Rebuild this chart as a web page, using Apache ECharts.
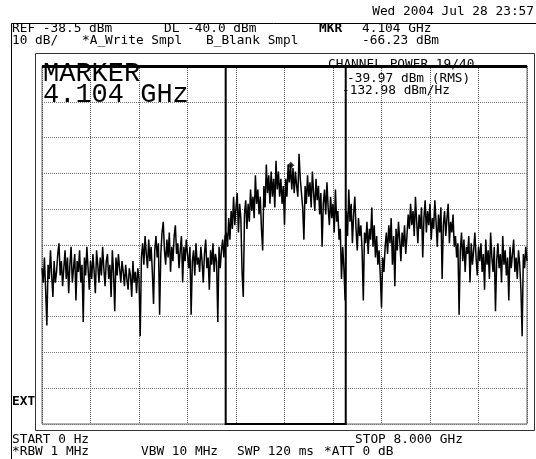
<!DOCTYPE html>
<html>
<head>
<meta charset="utf-8">
<script src="https://cdn.jsdelivr.net/npm/echarts@6/dist/echarts.min.js"></script>
<style>html,body{margin:0;padding:0;background:#fff;}#c{width:536px;height:459px;}</style>
</head>
<body>
<div id="c"></div>
<script>
// ---- data ----
const startGHz = 0;
const stopGHz = 8;
const refLevelDbm = -38.5;
const dbPerDiv = 10;
const xDivisions = 10;
const yDivisions = 10;
const channelStartGHz = 3.03;
const channelStopGHz = 5.01;
const markerGHz = 4.104;
const markerDbm = -66.23;

// trace A (dBm), 401 sweep points evenly spaced from start to stop
const traceDbm = [
  -95,-99,-92,-101,-111,-94,-98,-90,-97,-103,
  -93,-99,-96,-91,-88,-97,-93,-100,-95,-90,
  -98,-92,-102,-94,-89,-99,-95,-91,-104,-93,
  -96,-90,-99,-94,-110,-92,-97,-89,-95,-101,
  -93,-98,-91,-96,-102,-90,-94,-99,-92,-97,
  -89,-95,-100,-93,-91,-98,-94,-103,-90,-96,
  -107,-92,-97,-91,-95,-99,-93,-96,-100,-94,
  -98,-101,-95,-97,-103,-93,-99,-96,-102,-95,
  -98,-114,-92,-88,-94,-86,-91,-95,-87,-93,
  -89,-96,-105,-90,-86,-92,-88,-108,-91,-85,
  -82,-90,-94,-87,-92,-85,-96,-89,-93,-86,
  -83,-91,-88,-95,-90,-86,-99,-89,-93,-87,
  -91,-95,-89,-108,-93,-90,-97,-88,-94,-92,
  -96,-89,-93,-99,-91,-87,-95,-92,-101,-90,
  -94,-88,-96,-91,-93,-110,-89,-95,-90,-87,
  -92,-86,
  -85,-89,-81,-87,-79,-84,-75,-83,-78,-74,
  -85,-77,-81,-96,-103,-80,-76,-84,-77,-82,
  -73,-79,-75,-81,-69,-77,-73,-80,-75,-84,
  -90,-72,-78,-66,-74,-69,-77,-68,-75,-70,
  -78,-65,-73,-68,-75,-70,-77,-72,-83,-70,
  -75,-66,-71,-66,-73,-67,-74,-68,-72,-75,
  -63,-70,-74,-78,-87,-72,-77,-69,-75,-71,
  -78,-68,-74,-79,-70,-76,-72,-80,-74,-89,
  -77,-73,-80,-71,-78,-83,-75,-81,-77,-85,
  -73,-82,-79,-87,-84,-98,-89,-95,-104,
  -79,-86,-73,-82,-77,-88,-80,-75,-84,-90,
  -81,-86,-83,-90,-104,-85,-88,-82,-91,-84,
  -87,-78,-89,-83,-92,-86,-94,-90,-97,-106,
  -92,-96,-89,-85,-91,-83,-88,-81,-94,-86,
  -100,-84,-90,-82,-87,-93,-85,-89,-83,-91,
  -86,-80,-84,-77,-83,-79,-86,-75,-82,-88,
  -80,-84,-78,-92,-81,-76,-85,-79,-83,-77,
  -87,-81,-84,-76,-82,-89,-80,-85,-78,-98,
  -83,-79,-86,-81,-77,-88,-82,-85,-80,-89,
  -86,-92,-88,-108,-90,-85,-93,-87,-96,-89,
  -91,-86,-99,-88,-94,-90,-85,-92,-97,-89,
  -93,-88,-96,-91,-101,-87,-94,-90,-98,-85,
  -92,-96,-89,-107,-93,-88,-95,-91,-99,-86,
  -94,-90,-97,-92,-104,-89,-95,-91,-87,-96,
  -92,-98,-90,-94,-101,-114,-91,-95,-89,-93
];

// header / footer annotations
const headerRow0 = [{ text: 'Wed 2004 Jul 28 23:57', x: 534, align: 'right' }];
const headerRow1 = [
  { text: 'REF -38.5 dBm', x: 12 },
  { text: 'DL -40.0 dBm', x: 164 },
  { text: 'MKR', x: 319, bold: true },
  { text: '4.104 GHz', x: 362 }
];
const headerRow2 = [
  { text: '10 dB/', x: 12 },
  { text: '*A_Write Smpl', x: 82 },
  { text: 'B_Blank Smpl', x: 206 },
  { text: '-66.23 dBm', x: 362 }
];
const channelLines = ['CHANNEL POWER 19/40', '-39.97 dBm (RMS)', '-132.98 dBm/Hz'];
const markerLines = ['MARKER', '4.104 GHz'];
const footerRow1 = [
  { text: 'START 0 Hz', x: 12 },
  { text: 'STOP 8.000 GHz', x: 355 }
];
const footerRow2 = [
  { text: '*RBW 1 MHz', x: 12 },
  { text: 'VBW 10 MHz', x: 141 },
  { text: 'SWP 120 ms', x: 237 },
  { text: '*ATT 0 dB', x: 324 }
];

// ---- chart ----
const N = traceDbm.length;
const traceData = traceDbm.map((v, i) => [startGHz + i * (stopGHz - startGHz) / (N - 1), v]);
const bottomDbm = refLevelDbm - dbPerDiv * yDivisions;

const mono = '"DejaVu Sans Mono", monospace';
function txt(t, x, y, opts) {
  opts = opts || {};
  return {
    type: 'text', x: x, y: y, z: 100,
    style: {
      text: t, fill: '#000',
      font: (opts.bold ? 'bold ' : '') + (opts.size || 12.8) + 'px ' + (opts.family || mono),
      textAlign: opts.align || 'left', textVerticalAlign: 'middle'
    }
  };
}
const graphics = [];
graphics.push({ type: 'polyline', z: 90, shape: { points: [[536, 23.5], [11.5, 23.5], [11.5, 459]] }, style: { stroke: '#000', lineWidth: 1, fill: null } });
graphics.push({ type: 'rect', z: 90, shape: { x: 35.5, y: 53.5, width: 499, height: 377 }, style: { stroke: '#333', lineWidth: 1, fill: null } });
headerRow0.forEach(d => graphics.push(txt(d.text, d.x, 12, { align: d.align })));
headerRow1.forEach(d => graphics.push(txt(d.text, d.x, 29, { bold: d.bold })));
headerRow2.forEach(d => graphics.push(txt(d.text, d.x, 41)));
footerRow1.forEach(d => graphics.push(txt(d.text, d.x, 440)));
footerRow2.forEach(d => graphics.push(txt(d.text, d.x, 452)));
graphics.push(txt('EXT', 12, 402, { bold: true }));
graphics.push(txt(markerLines[0], 43, 73.5, { size: 27, family: '"Liberation Mono", monospace' }));
graphics.push(txt(markerLines[1], 43, 94.5, { size: 27, family: '"Liberation Mono", monospace' }));
graphics.push(txt(channelLines[0], 328, 65));
graphics.push(txt(channelLines[1], 347, 79));
graphics.push(txt(channelLines[2], 342, 91));

const chart = echarts.init(document.getElementById('c'), null, { renderer: 'canvas' });
chart.setOption({
  backgroundColor: '#fff',
  animation: false,
  grid: { left: 42, top: 66, width: 485, height: 358, show: true, borderColor: '#666', borderWidth: 1, backgroundColor: 'transparent' },
  xAxis: {
    type: 'value', min: startGHz, max: stopGHz, interval: (stopGHz - startGHz) / xDivisions,
    axisLine: { show: false }, axisTick: { show: false }, axisLabel: { show: false },
    splitLine: { show: true, lineStyle: { color: '#555', width: 1, type: [1, 1] } }
  },
  yAxis: [
    {
      type: 'value', min: bottomDbm, max: refLevelDbm,
      axisLine: { show: false }, axisTick: { show: false }, axisLabel: { show: false },
      splitLine: { show: false }
    },
    {
      type: 'value', min: 0, max: yDivisions, interval: 1, position: 'right',
      axisLine: { show: false }, axisTick: { show: false }, axisLabel: { show: false },
      splitLine: { show: true, lineStyle: { color: '#777', width: 1, type: [1, 1] } }
    }
  ],
  series: [
    {
      type: 'line', data: traceData, yAxisIndex: 0, symbol: 'none', sampling: null,
      lineStyle: { color: '#000', width: 1.5 }, z: 5,
      markLine: {
        silent: true, symbol: 'none', label: { show: false },
        lineStyle: { color: '#000', width: 3, type: 'solid' },
        data: [{ yAxis: refLevelDbm }]
      },
      markArea: {
        silent: true, label: { show: false },
        itemStyle: { color: 'rgba(0,0,0,0)', borderColor: '#000', borderWidth: 2 },
        data: [[{ xAxis: channelStartGHz, yAxis: bottomDbm }, { xAxis: channelStopGHz, yAxis: refLevelDbm }]]
      }
    },
    {
      type: 'scatter', data: [[markerGHz, markerDbm]], yAxisIndex: 0,
      symbol: 'diamond', symbolSize: 7, itemStyle: { color: '#000' }, z: 6
    }
  ],
  graphic: graphics
});
</script>
</body>
</html>
